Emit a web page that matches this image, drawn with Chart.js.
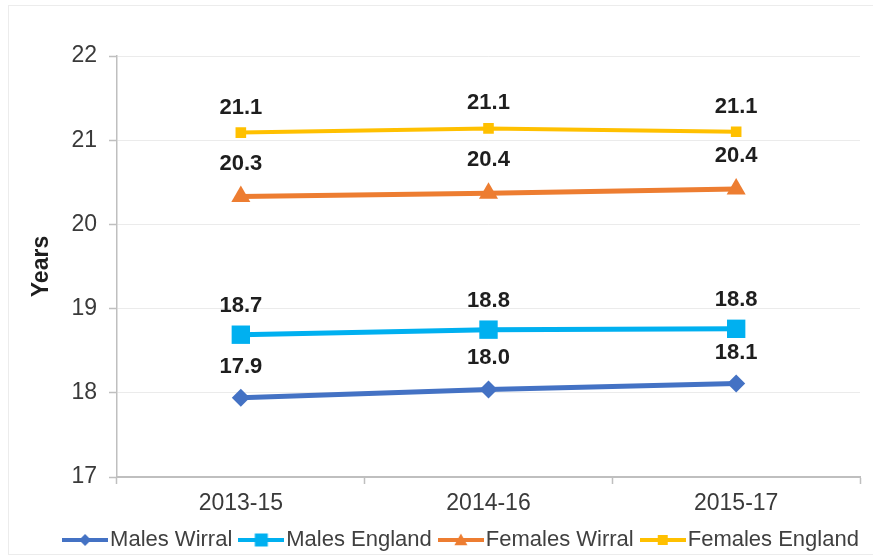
<html lang="en">

<head>
  <meta charset="utf-8">
  <title>Life expectancy at 65 - Wirral and England</title>
  <style>
    body {
      padding: 0;
      margin: 0;
      background: #ffffff;
    }
  </style>
  <script src="https://cdn.jsdelivr.net/npm/chart.js@4/dist/chart.umd.min.js"></script>
</head>

<body>

  <canvas id="chart" width="873" height="558"></canvas>
  <script>

    const periods = ['2013-15', '2014-16', '2015-17'];
    const malesWirral = [17.94, 18.04, 18.11];
    const malesEngland = [18.69, 18.75, 18.76];
    const femalesWirral = [20.33, 20.37, 20.42];
    const femalesEngland = [21.09, 21.14, 21.10];
    const yTicks = [17, 18, 19, 20, 21, 22];

    const FONT = "'Liberation Sans', Arial, sans-serif";

    // little line + marker picture for each legend entry
    function legendIcon(color, shape, r) {
      const c = document.createElement('canvas');
      c.width = 46;
      c.height = 20;
      const g = c.getContext('2d');
      g.strokeStyle = color;
      g.fillStyle = color;
      g.lineWidth = 4;
      g.beginPath();
      g.moveTo(0, 10);
      g.lineTo(46, 10);
      g.stroke();
      g.beginPath();
      if (shape === 'rectRot') {
        g.moveTo(23, 10 - r); g.lineTo(23 + r, 10); g.lineTo(23, 10 + r); g.lineTo(23 - r, 10);
      } else if (shape === 'triangle') {
        g.moveTo(23, 10 - r); g.lineTo(23 + r, 10 + r * 0.8); g.lineTo(23 - r, 10 + r * 0.8);
      } else {
        g.rect(23 - r, 10 - r, 2 * r, 2 * r);
      }
      g.closePath();
      g.fill();
      return c;
    }

    const dataLabels = {
      id: 'dataLabels',
      afterDatasetsDraw(chart) {
        const ctx = chart.ctx;
        ctx.save();
        ctx.font = "bold 22px " + FONT;
        ctx.fillStyle = '#1e1e1e';
        ctx.textAlign = 'center';
        ctx.textBaseline = 'middle';
        chart.data.datasets.forEach((ds, i) => {
          chart.getDatasetMeta(i).data.forEach((pt, j) => {
            ctx.fillText(ds.data[j].toFixed(1), pt.x, pt.y - ds.labelOffset);
          });
        });
        ctx.restore();
      }
    };

    const frame = {
      id: 'frame',
      beforeDraw(chart) {
        const ctx = chart.ctx;
        ctx.save();
        ctx.fillStyle = '#ffffff';
        ctx.fillRect(0, 0, chart.width, chart.height);
        ctx.strokeStyle = '#ececec';
        ctx.lineWidth = 1;
        ctx.strokeRect(8.5, 5.5, 900, 549);
        ctx.restore();
      }
    };

    // Excel put the legend a bit right of centre
    const legendNudge = {
      id: 'legendNudge',
      afterLayout(chart) {
        const lg = chart.legend;
        lg.left += 30;
        lg.right += 30;
        lg.top += 3;
        lg.bottom += 3;
      }
    };

    const icons = [
      legendIcon('#4472C4', 'rectRot', 6),
      legendIcon('#00B0F0', 'rect', 6.5),
      legendIcon('#ED7D31', 'triangle', 6.5),
      legendIcon('#FFC000', 'rect', 5)
    ];

    const ctx = document.getElementById('chart');
    const myChart = new Chart(ctx, {
      type: 'line',
      data: {
        labels: periods,
        datasets: [{
          label: 'Males Wirral',
          data: malesWirral,
          borderColor: '#4472C4',
          backgroundColor: '#4472C4',
          borderWidth: 5,
          pointStyle: 'rectRot',
          pointRadius: 9,
          pointBorderWidth: 0,
          labelOffset: 31
        }, {
          label: 'Males England',
          data: malesEngland,
          borderColor: '#00B0F0',
          backgroundColor: '#00B0F0',
          borderWidth: 5,
          pointStyle: 'rect',
          pointRadius: 13,
          pointBorderWidth: 0,
          labelOffset: 29
        }, {
          label: 'Females Wirral',
          data: femalesWirral,
          borderColor: '#ED7D31',
          backgroundColor: '#ED7D31',
          borderWidth: 5,
          pointStyle: 'triangle',
          pointRadius: 11,
          pointBorderWidth: 0,
          labelOffset: 33
        }, {
          label: 'Females England',
          data: femalesEngland,
          borderColor: '#FFC000',
          backgroundColor: '#FFC000',
          borderWidth: 4,
          pointStyle: 'rect',
          pointRadius: 7.5,
          pointBorderWidth: 0,
          labelOffset: 25
        }]
      },
      options: {
        responsive: false,
        animation: false,
        layout: {
          padding: { left: 8, right: 11, top: 56, bottom: 0 }
        },
        plugins: {
          tooltip: { enabled: false },
          legend: {
            position: 'bottom',
            labels: {
              font: { family: FONT, size: 22 },
              color: '#404040',
              usePointStyle: true,
              pointStyleWidth: 28,
              padding: 15,
              generateLabels(chart) {
                return chart.data.datasets.map((ds, i) => ({
                  text: ds.label,
                  pointStyle: icons[i],
                  fontColor: '#404040',
                  datasetIndex: i,
                  hidden: false,
                  lineWidth: 0
                }));
              }
            }
          }
        },
        scales: {
          x: {
            offset: true,
            grid: {
              offset: true,
              drawOnChartArea: false,
              tickLength: 7,
              tickColor: '#bfbfbf',
              tickWidth: 1.5
            },
            border: { color: '#bfbfbf', width: 2 },
            ticks: {
              font: { family: FONT, size: 23 },
              color: '#3a3a3a',
              padding: 6,
              maxRotation: 0
            },
            afterFit(scale) {
              scale.height = 34;
            }
          },
          y: {
            min: 17,
            max: 22,
            afterBuildTicks(scale) {
              scale.ticks = yTicks.map(v => ({ value: v }));
            },
            grid: {
              color: '#ebebeb',
              tickLength: 8,
              tickColor: '#bfbfbf',
              tickWidth: 1.5
            },
            border: { color: '#bfbfbf', width: 1.5 },
            ticks: {
              font: { family: FONT, size: 23 },
              color: '#3a3a3a',
              padding: 12
            },
            title: {
              display: true,
              text: 'Years',
              font: { family: FONT, size: 23, weight: 'bold' },
              color: '#1e1e1e',
              padding: { top: 20, bottom: 0 }
            },
            afterFit(scale) {
              scale.width = 109;
            }
          }
        }
      },
      plugins: [frame, dataLabels, legendNudge]
    });
  </script>

</body>

</html>
